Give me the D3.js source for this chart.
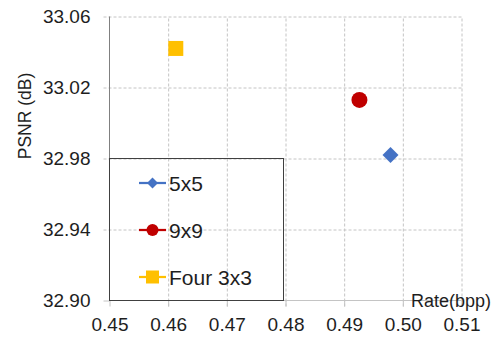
<!DOCTYPE html>
<html>
<head>
<meta charset="utf-8">
<script src="https://cdn.jsdelivr.net/npm/d3@7"></script>
<style>
  html, body { margin: 0; padding: 0; background: #fff; }
  svg { display: block; font-family: "Liberation Sans", Arial, sans-serif; }
</style>
</head>
<body>
<svg id="chart" width="502" height="339"></svg>
<script>
// Rate–distortion points for three filter configurations
const seriesNames = ["5x5", "9x9", "Four 3x3"];
const rateValues = [0.4979, 0.4926, 0.4613];
const psnrValues = [32.982, 33.013, 33.042];
const seriesColors = ["#4472C4", "#C00000", "#FFC000"];
const seriesShapes = ["diamond", "circle", "square"];
const xTicks = [0.45, 0.46, 0.47, 0.48, 0.49, 0.50, 0.51];
const yTicks = [32.90, 32.94, 32.98, 33.02, 33.06];

const svg = d3.select("#chart");
const plotLeft = 109.5, plotRight = 461.5, plotTop = 16.5, plotBottom = 300.5;

const x = d3.scaleLinear().domain([0.45, 0.51]).range([plotLeft, plotRight]);
const y = d3.scaleLinear().domain([32.90, 33.06]).range([plotBottom, plotTop]);

const gridColor = "#c4c4c4";
const textColor = "#1e1e1e";

// horizontal gridlines (dashed), extending slightly left as tick marks
const yAxis = d3.axisLeft(y).tickValues(yTicks).tickFormat(d3.format(".2f"))
  .tickSize(0).tickPadding(19);
const gy = svg.append("g").attr("transform", `translate(${plotLeft},0)`).call(yAxis);
gy.select(".domain").remove();
gy.selectAll("text").attr("font-size", 19).attr("fill", textColor);
gy.selectAll(".tick").append("line")
  .attr("x1", -6).attr("x2", d => d === 32.90 ? 0 : plotRight - plotLeft)
  .attr("stroke", gridColor).attr("stroke-dasharray", d => d === 32.90 ? null : "3,2");

// vertical gridlines
const xAxis = d3.axisBottom(x).tickValues(xTicks).tickFormat(d3.format(".2f"))
  .tickSize(0).tickPadding(17);
const gx = svg.append("g").attr("transform", `translate(0,${plotBottom})`).call(xAxis);
gx.select(".domain").remove();
gx.selectAll("text").attr("font-size", 19).attr("fill", textColor);
gx.selectAll(".tick").append("line")
  .attr("y1", 6).attr("y2", d => d === 0.45 ? 0 : plotTop - plotBottom)
  .attr("stroke", gridColor).attr("stroke-dasharray", d => d === 0.45 ? null : "3,2");
gx.selectAll(".tick").filter(d => d !== 0.45).append("line")
  .attr("y1", 0).attr("y2", 6).attr("stroke", gridColor);

// axis lines
svg.append("line").attr("x1", plotLeft).attr("x2", plotRight).attr("y1", plotBottom).attr("y2", plotBottom)
  .attr("stroke", "#c4c4c4");
svg.append("line").attr("x1", plotLeft).attr("x2", plotLeft).attr("y1", plotTop).attr("y2", plotBottom)
  .attr("stroke", "#808080");

// axis titles
svg.append("text").attr("x", 491).attr("y", 307).attr("text-anchor", "end")
  .attr("font-size", 18).attr("fill", textColor).text("Rate(bpp)");
svg.append("text").attr("transform", "translate(31,116) rotate(-90)")
  .attr("text-anchor", "middle").attr("font-size", 17.5).attr("fill", textColor).text("PSNR (dB)");

// marker path generator
function markerPath(shape, size) {
  const s = size / 2;
  if (shape === "diamond") return `M0,${-s}L${s},0L0,${s}L${-s},0Z`;
  if (shape === "square") return `M${-s},${-s}H${s}V${s}H${-s}Z`;
  return d3.arc()({innerRadius: 0, outerRadius: s, startAngle: 0, endAngle: 2 * Math.PI});
}
const plotSizes = {diamond: 16, circle: 16, square: 15};

// data points
svg.append("g").selectAll("path").data(seriesNames).join("path")
  .attr("transform", (d, i) => `translate(${x(rateValues[i])},${y(psnrValues[i])})`)
  .attr("d", (d, i) => markerPath(seriesShapes[i], plotSizes[seriesShapes[i]]))
  .attr("fill", (d, i) => seriesColors[i]);

// legend
const legend = svg.append("g");
legend.append("rect").attr("x", plotLeft).attr("y", 158.5).attr("width", 174).attr("height", plotBottom - 158.5)
  .attr("fill", "none").attr("stroke", "#404040");
const legendSizes = {diamond: 11, circle: 12, square: 13};
const items = legend.selectAll("g.item").data(seriesNames).join("g")
  .attr("transform", (d, i) => `translate(0,${183 + i * 47})`);
items.append("line").attr("x1", 139).attr("x2", 166)
  .attr("stroke", (d, i) => seriesColors[i]).attr("stroke-width", 2.25);
items.append("path").attr("transform", "translate(152.5,0)")
  .attr("d", (d, i) => markerPath(seriesShapes[i], legendSizes[seriesShapes[i]]))
  .attr("fill", (d, i) => seriesColors[i]);
items.append("text").attr("x", 169).attr("y", 7.5).attr("font-size", 21).attr("fill", textColor)
  .text(d => d);
</script>
</body>
</html>
